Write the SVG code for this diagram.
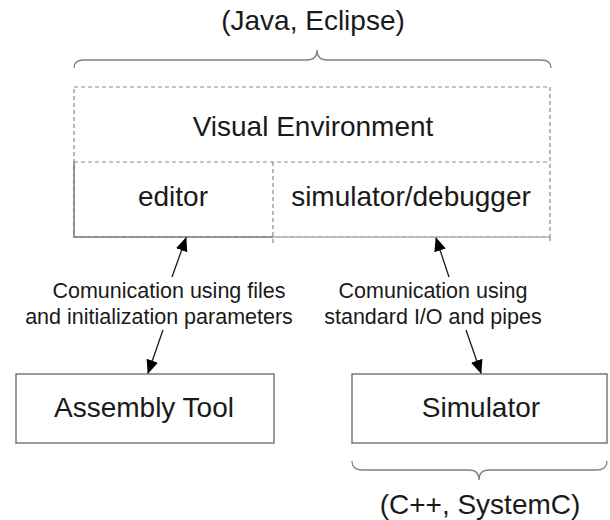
<svg xmlns="http://www.w3.org/2000/svg" width="610" height="520" viewBox="0 0 610 520">
<style>
  text { font-family: "Liberation Sans", Arial, sans-serif; fill: #1a1a1a; text-anchor: middle; }
  .big { font-size: 28px; }
  .lbl { font-size: 21.5px; }
  .dash { fill: none; stroke: #8a8a8a; stroke-width: 1.2; stroke-dasharray: 4 3; }
  .solid { fill: none; stroke: #7a7a7a; stroke-width: 1.5; }
  .light { fill: none; stroke: #b5b5b5; stroke-width: 1.5; }
  .brace { fill: none; stroke: #808080; stroke-width: 1.3; }
  .conn { stroke: #1a1a1a; stroke-width: 1.3; fill: none; marker-end: url(#arr); }
</style>
<defs>
  <marker id="arr" markerUnits="userSpaceOnUse" markerWidth="14" markerHeight="12" viewBox="0 0 14 12" refX="13" refY="6" orient="auto">
    <path d="M0,0 L14,6 L0,12 Z" fill="#000"/>
  </marker>
</defs>
<rect width="610" height="520" fill="#ffffff"/>

<g id="java-brace">
  <path class="brace" d="M74,68 Q74,60 84,60 L307,60 Q317,60 317,50 Q317,60 327,60 L541,60 Q551,60 551,68"/>
  <text class="big" x="313" y="30">(Java, Eclipse)</text>
</g>

<g id="visual-environment">
  <rect class="dash" x="74" y="87" width="476" height="150"/>
  <line class="dash" x1="74" y1="162" x2="550" y2="162"/>
  <text class="big" x="313" y="136">Visual Environment</text>
</g>

<g id="editor">
  <path class="solid" d="M74,162 L74,237 L273,237"/>
  <text class="big" x="173" y="206">editor</text>
</g>

<g id="simulator-debugger">
  <line class="dash" x1="273" y1="162" x2="273" y2="243"/>
  <line class="light" x1="273" y1="237" x2="550" y2="237"/>
  <line class="dash" x1="550" y1="237" x2="550" y2="243"/>
  <text class="big" x="411" y="206">simulator/debugger</text>
</g>

<g id="assembly-tool">
  <rect class="solid" x="16" y="374" width="258" height="69"/>
  <text class="big" x="144" y="417">Assembly Tool</text>
</g>

<g id="simulator">
  <rect class="solid" x="352" y="374" width="255" height="69"/>
  <text class="big" x="481" y="417">Simulator</text>
</g>

<g id="cpp-brace">
  <path class="brace" d="M352,461 Q352,470 362,470 L469,470 Q479,470 479,480 Q479,470 489,470 L597,470 Q607,470 607,461"/>
  <text class="big" x="480" y="514">(C++, SystemC)</text>
</g>

<g id="connectors">
  <line class="conn" x1="172" y1="277" x2="186" y2="238"/>
  <line class="conn" x1="163" y1="330" x2="148" y2="373"/>
  <line class="conn" x1="449" y1="277" x2="436" y2="238"/>
  <line class="conn" x1="466" y1="330" x2="481" y2="373"/>
  <text class="lbl" x="169" y="298">Comunication using files</text>
  <text class="lbl" x="159" y="324">and initialization parameters</text>
  <text class="lbl" x="433" y="298">Comunication using</text>
  <text class="lbl" x="433" y="324">standard I/O and pipes</text>
</g>
</svg>
